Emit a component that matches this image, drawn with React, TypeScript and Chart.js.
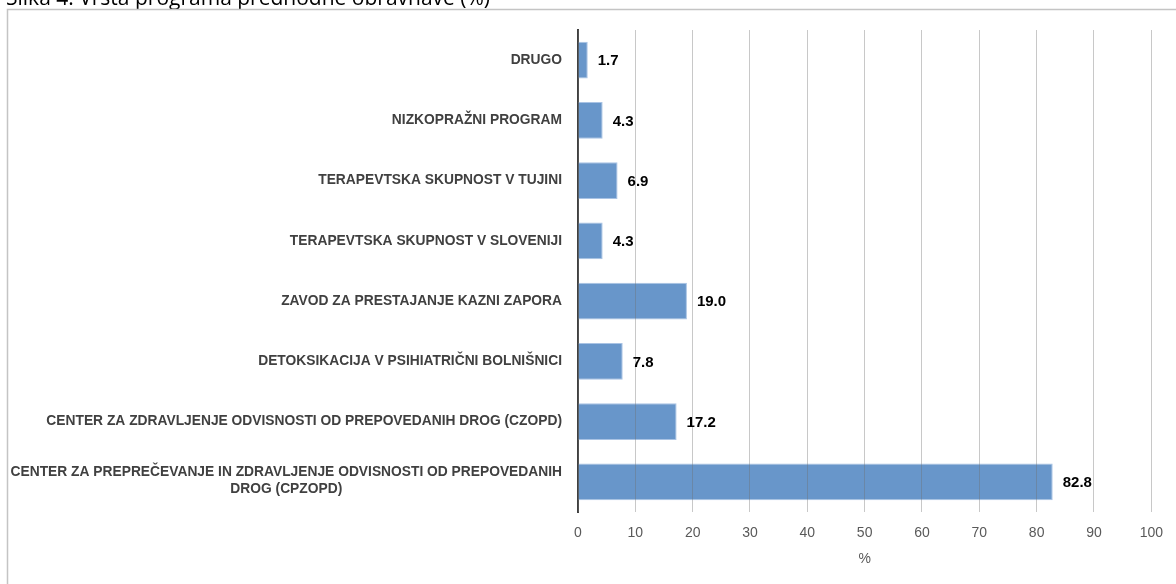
import { useEffect, useRef } from "react";
import { Chart, registerables } from "chart.js";

Chart.register(...registerables);

const titleText = "Slika 4: Vrsta programa predhodne obravnave (%)";

const categories: string[][] = [
  ["DRUGO"],
  ["NIZKOPRAŽNI PROGRAM"],
  ["TERAPEVTSKA SKUPNOST V TUJINI"],
  ["TERAPEVTSKA SKUPNOST V SLOVENIJI"],
  ["ZAVOD ZA PRESTAJANJE KAZNI ZAPORA"],
  ["DETOKSIKACIJA V PSIHIATRIČNI BOLNIŠNICI"],
  ["CENTER ZA ZDRAVLJENJE ODVISNOSTI OD PREPOVEDANIH DROG (CZOPD)"],
  ["CENTER ZA PREPREČEVANJE IN ZDRAVLJENJE ODVISNOSTI OD PREPOVEDANIH", "DROG (CPZOPD)"],
];

const values: number[] = [1.7, 4.3, 6.9, 4.3, 19.0, 7.8, 17.2, 82.8];

const xMin = 0;
const xMax = 100;
const xStep = 10;
const xTitle = "%";

const LABEL_FONT = "bold 13.8px 'Liberation Sans', Arial, sans-serif";
const VALUE_FONT = "bold 15px 'Liberation Sans', Arial, sans-serif";

const decorPlugin = {
  id: "decor",
  beforeDraw(chart: any) {
    const ctx = chart.ctx;
    ctx.save();
    ctx.fillStyle = "#ffffff";
    ctx.fillRect(0, 0, chart.width, chart.height);
    // title (cut off at top)
    ctx.fillStyle = "#000000";
    ctx.font = "21px 'Open Sans', sans-serif";
    ctx.textAlign = "left";
    ctx.textBaseline = "alphabetic";
    ctx.fillText(titleText, 6, 5);
    // frame
    ctx.strokeStyle = "#c4c4c4";
    ctx.lineWidth = 1.5;
    ctx.strokeRect(7.5, 9.5, 1300, 700);
    ctx.restore();
  },
  afterDraw(chart: any) {
    const ctx = chart.ctx;
    const yScale = chart.scales.y;
    const right = yScale.right - 16;
    ctx.save();
    ctx.font = LABEL_FONT;
    ctx.fillStyle = "#404040";
    ctx.textBaseline = "middle";
    ctx.textAlign = "center";
    const lh = 17;
    categories.forEach((lines, i) => {
      const y = yScale.getPixelForTick(i);
      const w = Math.max(...lines.map((l) => ctx.measureText(l).width));
      const cx = right - w / 2;
      const y0 = y - ((lines.length - 1) * lh) / 2 - (lines.length > 1 ? 1.5 : 0);
      lines.forEach((l, j) => ctx.fillText(l, cx, y0 + j * lh));
    });
    // value labels
    ctx.font = VALUE_FONT;
    ctx.fillStyle = "#000000";
    ctx.textAlign = "left";
    const meta = chart.getDatasetMeta(0);
    meta.data.forEach((bar: any, i: number) => {
      ctx.fillText(values[i].toFixed(1), bar.x + 10, bar.y + 1);
    });
    ctx.restore();
  },
};

export default function App() {
  const ref = useRef<HTMLCanvasElement | null>(null);
  useEffect(() => {
    if (!ref.current) return;
    const chart = new Chart(ref.current, {
      type: "bar",
      data: {
        labels: categories.map((c) => c.join(" ")),
        datasets: [
          {
            data: values,
            backgroundColor: "#6896ca",
            borderColor: "#a9c3e4",
            borderWidth: 1,
            barPercentage: 0.61,
            categoryPercentage: 1,
          },
        ],
      },
      options: {
        indexAxis: "y",
        responsive: false,
        animation: false,
        layout: { padding: { left: 0, right: 18, top: 30, bottom: 0 } },
        plugins: {
          legend: { display: false },
          tooltip: { enabled: false },
          title: { display: false },
        },
        scales: {
          x: {
            min: xMin,
            max: xMax,
            ticks: {
              stepSize: xStep,
              color: "#595959",
              font: { family: "'Liberation Sans', Arial, sans-serif", size: 14 },
              padding: 13,
            },
            grid: {
              color: "rgba(110,110,110,0.38)",
              lineWidth: 1,
              drawTicks: false,
              z: 1,
            },
            border: { display: false },
            title: {
              display: true,
              text: xTitle,
              color: "#595959",
              font: { family: "'Liberation Sans', Arial, sans-serif", size: 14 },
              padding: { top: 0, bottom: 16 },
            },
            afterFit: (scale: any) => {
              scale.height = 72;
            },
          },
          y: {
            ticks: { display: false },
            grid: { display: false },
            border: { display: true, color: "#404040", width: 2 },
            afterFit: (scale: any) => {
              scale.width = 578;
            },
          },
        },
      },
      plugins: [decorPlugin],
    } as any);
    return () => chart.destroy();
  }, []);
  return (
    <div style={{ position: "fixed", left: 0, top: 0, width: 1176, height: 584, overflow: "hidden", background: "#fff" }}>
      <canvas ref={ref} width={1176} height={584} style={{ display: "block", width: 1176, height: 584 }} />
    </div>
  );
}
